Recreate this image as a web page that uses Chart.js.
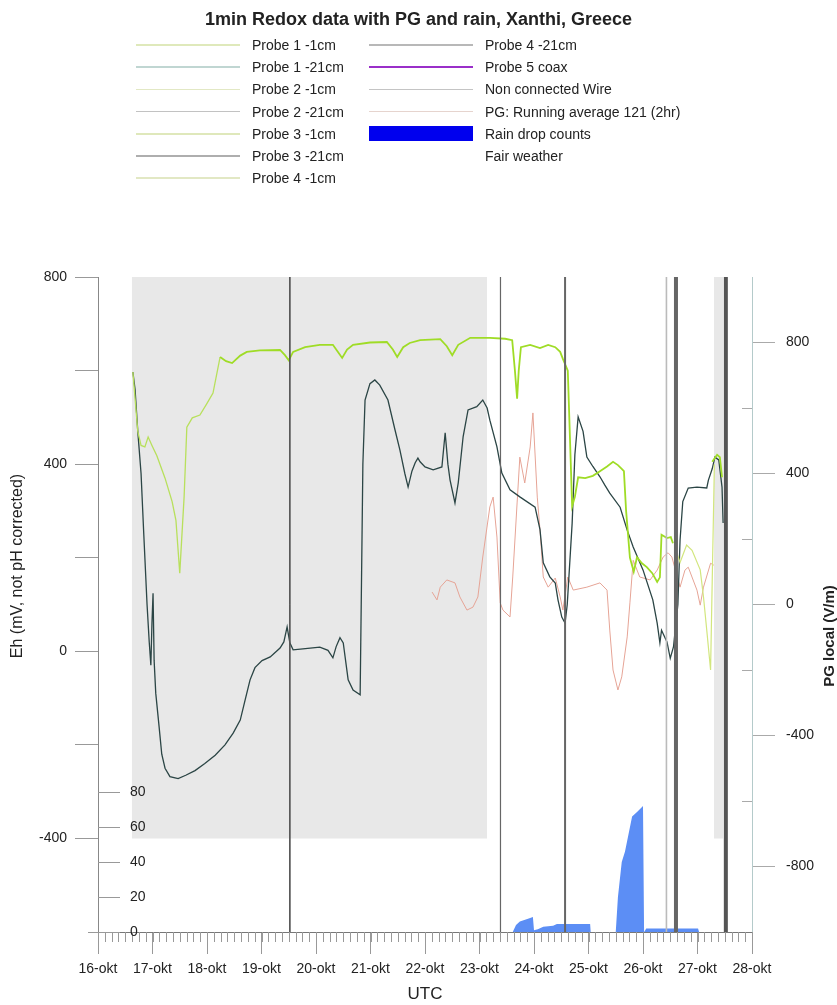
<!DOCTYPE html>
<html>
<head>
<meta charset="utf-8">
<script src="https://cdn.jsdelivr.net/npm/chart.js@4.4.1/dist/chart.umd.min.js"></script>
<style>
  html, body { margin: 0; padding: 0; background: #fff; }
  #wrap { position: relative; width: 837px; height: 1005px; overflow: hidden;
          font-family: "Liberation Sans", Arial, sans-serif; color: #222; }
  #chart { position: absolute; left: 0; top: 0; }
  #title { position: absolute; top: 9px; left: 0; width: 837px; text-align: center;
           font-weight: bold; font-size: 18px; line-height: 21px; }
  .lg { position: absolute; font-size: 14px; line-height: 16px; white-space: nowrap; }
  .sw { position: absolute; }
</style>
</head>
<body>
<div id="wrap">
  <canvas id="chart" width="837" height="1005"></canvas>
  <div id="title">1min Redox data with PG and rain, Xanthi, Greece</div>
  <div id="legend"></div>
</div>
<script>
// ---- data (x = day of October, UTC) ----
const dayTicks = [16, 17, 18, 19, 20, 21, 22, 23, 24, 25, 26, 27, 28];
const ehTicks = [-400, -200, 0, 200, 400, 600, 800];
const pgTicks = [-800, -400, 0, 400, 800];
const pgMinorTicks = [-600, -200, 200, 600];
const rainTicks = [0, 20, 40, 60, 80];

// Probe -1cm (bright green), Eh in mV
const shallowDays = [16.64,16.73,16.79,16.86,16.92,16.99,17.08,17.23,17.36,17.43,17.50,17.58,17.63,17.73,17.87,18.00,18.11,18.24,18.35,18.46,18.61,18.73,18.97,19.34,19.43,19.50,19.58,19.80,20.07,20.31,20.40,20.48,20.57,20.68,20.99,21.30,21.41,21.49,21.60,21.72,21.91,22.28,22.40,22.50,22.61,22.83,23.19,23.47,23.60,23.65,23.69,23.72,23.76,23.93,24.11,24.26,24.39,24.48,24.53,24.62,24.70,24.75,24.81,24.94,25.08,25.21,25.34,25.45,25.54,25.61,25.65,25.69,25.76,25.83,25.89,25.98,26.07,26.17,26.26,26.31,26.34,26.44,26.51,26.55,26.56,27.27,27.36,27.41,27.45];
const shallowEh = [597,470,440,437,458,440,418,370,320,280,167,330,479,499,505,530,552,629,620,616,632,640,643,644,633,622,640,650,655,655,640,627,645,655,660,661,645,629,650,659,665,667,652,633,655,670,670,668,665,600,540,600,650,655,648,655,650,640,625,600,310,330,372,370,375,385,395,405,398,390,385,300,200,170,201,188,180,167,148,158,249,242,244,231,null,405,420,415,372];

// Probe 4 -1cm (pale yellow), late part only
const paleDays = [26.62,26.68,26.80,26.90,27.05,27.11,27.17,27.24,27.27,27.31];
const paleEh = [210,190,227,216,174,116,45,-40,150,400];

// Probe -21cm (dark), Eh in mV
const deepDays = [16.64,16.68,16.73,16.79,16.84,16.90,16.94,16.97,16.99,17.01,17.03,17.06,17.12,17.17,17.23,17.32,17.47,17.61,17.78,17.96,18.15,18.33,18.48,18.61,18.70,18.79,18.88,19.01,19.16,19.34,19.41,19.47,19.52,19.58,19.76,20.07,20.22,20.31,20.37,20.44,20.50,20.59,20.68,20.81,20.84,20.86,20.90,20.99,21.08,21.17,21.32,21.45,21.54,21.63,21.69,21.76,21.82,21.87,21.91,22.00,22.15,22.31,22.37,22.42,22.46,22.55,22.61,22.70,22.79,22.95,23.06,23.14,23.19,23.32,23.41,23.56,23.74,24.02,24.11,24.17,24.29,24.39,24.44,24.51,24.57,24.61,24.70,24.75,24.81,24.90,24.97,25.08,25.21,25.30,25.39,25.58,25.71,25.82,26.00,26.18,26.26,26.31,26.34,26.44,26.50,26.56,26.64,26.68,26.73,26.83,26.99,27.17,27.20,27.27,27.32,27.39,27.45,27.47];
const deepEh = [597,560,470,380,250,100,20,-30,60,124,-20,-90,-160,-220,-250,-268,-272,-265,-255,-240,-222,-200,-175,-147,-104,-61,-35,-20,-12,7,20,52,18,3,5,9,2,-14,10,29,18,-61,-83,-93,200,400,537,572,580,569,537,473,430,380,351,385,403,413,405,394,388,394,467,400,366,317,360,459,516,523,537,520,494,437,381,345,330,308,260,189,159,146,110,73,60,100,274,420,501,470,415,395,373,355,338,308,259,223,174,110,60,18,45,20,-15,10,100,238,320,349,351,349,366,390,415,409,351,274];

// PG running average (V/m)
const pgDays = [22.13,22.22,22.28,22.40,22.55,22.64,22.77,22.88,22.97,23.06,23.19,23.25,23.32,23.38,23.43,23.56,23.61,23.69,23.74,23.83,23.93,23.98,24.06,24.11,24.17,24.26,24.39,24.48,24.53,24.62,24.72,24.97,25.21,25.34,25.39,25.45,25.54,25.61,25.71,25.76,25.82,25.94,26.13,26.26,26.37,26.46,26.53,26.68,26.77,26.83,26.99,27.05,27.11,27.24,27.30];
const pgValues = [38,14,53,75,66,23,-17,-8,23,145,298,328,206,5,-17,-38,84,310,450,371,481,585,328,228,84,53,81,23,-17,84,44,53,66,44,-78,-200,-261,-221,-99,5,135,84,75,105,145,158,145,53,105,114,44,-2,53,126,120];

// Rain drop counts
const rainDays = [23.61,23.67,23.74,23.89,23.98,24.00,24.07,24.17,24.35,24.42,25.03,25.04,25.50,25.54,25.61,25.67,25.80,25.89,26.00,26.02,26.06,27.01,27.03];
const rainCounts = [0,4,6,7.5,8.5,1,1.5,3,3.5,4.5,4.5,0,0,20,40,46,66,68.5,72,0,2,2,0];

// Fair weather periods (Eh band -400 .. 800)
const fairStart = [16.62, 27.30];
const fairEnd = [23.14, 27.47];
const fairTop = 800;
const fairBottom = -400;

// Spikes of the non connected wire / coax (full-height lines)
const spikeDays = [19.52, 23.385, 24.57, 26.43, 26.605, 27.52];

const legendCol1 = ["Probe 1 -1cm", "Probe 1 -21cm", "Probe 2 -1cm", "Probe 2 -21cm", "Probe 3 -1cm", "Probe 3 -21cm", "Probe 4 -1cm"];
const legendCol2 = ["Probe 4 -21cm", "Probe 5 coax", "Non connected Wire", "PG: Running average 121 (2hr)", "Rain drop counts", "Fair weather"];

// ---- legend (html) ----
const col1Colors = ['#dfe9bb', '#c0d6d2', '#e2e8c4', '#c2c2c2', '#dfe8bb', '#aeaeae', '#e2e8c4'];
const col2Colors = ['#b8b8b8', '#9a2fc9', '#c4c4c4', '#e6d4ce', '#0000ee', null];
const legendEl = document.getElementById('legend');
const addLegend = (names, colors, swLeft, textLeft) => {
    names.forEach((name, i) => {
        const y = 45 + i * 22.2;
        if (colors[i]) {
            const sw = document.createElement('div');
            sw.className = 'sw';
            const isBox = name === 'Rain drop counts';
            const h = isBox ? 15 : (name === 'Probe 5 coax' ? 2 : 1.5);
            sw.style.cssText = `left:${swLeft}px;top:${y - h / 2}px;width:104px;height:${h}px;background:${colors[i]}`;
            legendEl.appendChild(sw);
        }
        const t = document.createElement('div');
        t.className = 'lg';
        t.style.left = textLeft + 'px';
        t.style.top = (y - 8) + 'px';
        t.textContent = name;
        legendEl.appendChild(t);
    });
};
addLegend(legendCol1, col1Colors, 136, 252);
addLegend(legendCol2, col2Colors, 369, 485);

// ---- chart ----
const family = '"Liberation Sans", Arial, sans-serif';
const pts = (days, vals) => days.map((d, i) => ({ x: d, y: vals[i] }));
const asTicks = vals => vals.map(v => ({ value: v }));

const datasets = [];
fairStart.forEach((s, i) => {
    datasets.push({
        data: [{ x: s, y: fairTop }, { x: fairEnd[i], y: fairTop }],
        yAxisID: 'yEh', borderWidth: 0, backgroundColor: '#e8e8e8',
        fill: { value: fairBottom }, order: 20
    });
});
datasets.push({
    data: pts(rainDays, rainCounts), yAxisID: 'yRain',
    borderWidth: 0, backgroundColor: 'rgb(92,142,245)', fill: 'origin', order: 15
});
datasets.push({
    data: pts(pgDays, pgValues), yAxisID: 'yPG',
    borderColor: '#e6a496', borderWidth: 1, fill: false, order: 12
});
datasets.push({
    data: pts(deepDays, deepEh), yAxisID: 'yEh',
    borderColor: '#2b4545', borderWidth: 1.3, fill: false, order: 11
});
datasets.push({
    data: pts(paleDays, paleEh), yAxisID: 'yEh',
    borderColor: '#d2e67e', borderWidth: 1.2, fill: false, order: 10
});
datasets.push({
    data: pts(shallowDays, shallowEh), yAxisID: 'yEh',
    borderColor: '#9fdc26', borderWidth: 1.8, fill: false, spanGaps: false, order: 9,
    segment: { borderColor: c => c.p0.parsed.x < 18.2 ? '#b8e05c' : undefined,
               borderWidth: c => c.p0.parsed.x < 18.2 ? 1.3 : undefined }
});
const spikeWidths = [1, 1.2, 2, 1.6, 4, 4];
const spikeColors = ['#555', '#666', '#666', '#bbb', '#666', '#555'];
spikeDays.forEach((d, i) => {
    datasets.push({
        data: [{ x: d, y: 800 }, { x: d, y: -600 }], yAxisID: 'yEh',
        borderColor: spikeColors[i], borderWidth: spikeWidths[i], fill: false, order: 5
    });
});

const decor = {
    id: 'decor',
    afterDraw(chart) {
        const { ctx, chartArea: a, scales } = chart;
        const x = scales.x, rain = scales.yRain, pg = scales.yPG;
        ctx.save();
        // minor time ticks every 3 hours
        ctx.strokeStyle = '#999';
        ctx.lineWidth = 1;
        ctx.beginPath();
        for (let d = 16; d <= 28.001; d += 0.125) {
            const px = Math.round(x.getPixelForValue(d)) + 0.5;
            ctx.moveTo(px, a.bottom);
            ctx.lineTo(px, a.bottom + 10);
        }
        ctx.moveTo(a.left - 10, a.bottom + 0.5);
        ctx.lineTo(a.left, a.bottom + 0.5);
        ctx.stroke();
        // rain count axis, drawn on the Eh axis line
        ctx.strokeStyle = '#999';
        ctx.fillStyle = '#222';
        ctx.font = '14px ' + family;
        ctx.textAlign = 'left';
        ctx.textBaseline = 'middle';
        ctx.beginPath();
        rainTicks.forEach(v => {
            const py = Math.round(rain.getPixelForValue(v)) + 0.5;
            ctx.moveTo(a.left, py);
            ctx.lineTo(a.left + 22, py);
        });
        ctx.stroke();
        rainTicks.forEach(v => {
            ctx.fillText(String(v), a.left + 32, rain.getPixelForValue(v));
        });
        // PG minor ticks (inside)
        ctx.strokeStyle = '#aaa';
        ctx.beginPath();
        pgMinorTicks.forEach(v => {
            const py = Math.round(pg.getPixelForValue(v)) + 0.5;
            ctx.moveTo(a.right - 10, py);
            ctx.lineTo(a.right, py);
        });
        ctx.stroke();
        // axis titles
        ctx.textAlign = 'center';
        ctx.save();
        ctx.translate(18, 566);
        ctx.rotate(-Math.PI / 2);
        ctx.font = '16px ' + family;
        ctx.fillText('Eh (mV, not pH corrected)', 0, 0);
        ctx.restore();
        ctx.save();
        ctx.translate(830, 636);
        ctx.rotate(-Math.PI / 2);
        ctx.font = 'bold 15px ' + family;
        ctx.fillText('PG local (V/m)', 0, 0);
        ctx.restore();
        ctx.restore();
    }
};

new Chart(document.getElementById('chart'), {
    type: 'line',
    data: { datasets },
    plugins: [decor],
    options: {
        responsive: false,
        animation: false,
        layout: { padding: { top: 277, left: 0, right: 0, bottom: 0 } },
        elements: { point: { radius: 0 }, line: { tension: 0 } },
        plugins: { legend: { display: false }, tooltip: { enabled: false } },
        scales: {
            x: {
                type: 'linear', min: dayTicks[0], max: dayTicks[dayTicks.length - 1],
                afterFit: s => { s.height = 73; },
                afterBuildTicks: s => { s.ticks = asTicks(dayTicks); },
                ticks: { callback: v => v + '-okt', font: { size: 14, family }, color: '#222',
                         padding: 7, maxRotation: 0, autoSkip: false },
                grid: { drawOnChartArea: false, tickLength: 22, color: '#999' },
                border: { color: '#777' },
                title: { display: true, text: 'UTC', font: { size: 17, family }, color: '#222',
                         padding: { top: 0, bottom: 0 } }
            },
            yEh: {
                position: 'left', min: -600, max: 800,
                afterFit: s => { s.width = 98; },
                afterBuildTicks: s => { s.ticks = asTicks(ehTicks); },
                ticks: { callback: v => (v % 400 === 0 ? v : ''),
                         font: { size: 14, family }, color: '#222', padding: 8 },
                grid: { drawOnChartArea: false, tickLength: 23, color: '#999' },
                border: { color: '#888' }
            },
            yRain: { display: false, min: 0, max: 374 },
            yPG: {
                position: 'right', min: -1000, max: 1000,
                afterFit: s => { s.width = 85; },
                afterBuildTicks: s => { s.ticks = asTicks(pgTicks); },
                ticks: { font: { size: 14, family }, color: '#222', padding: 11 },
                grid: { drawOnChartArea: false, tickLength: 23, color: '#aaa' },
                border: { color: '#b4caca' }
            }
        }
    }
});
</script>
</body>
</html>
